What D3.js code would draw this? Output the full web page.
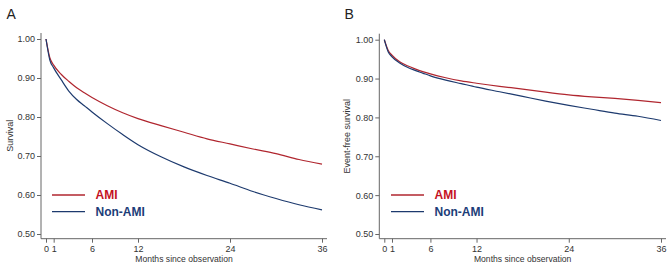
<!DOCTYPE html>
<html><head><meta charset="utf-8">
<script src="https://cdn.jsdelivr.net/npm/d3@7"></script>
<style>body{margin:0;background:#fff}svg{display:block}</style>
</head><body>
<svg id="c" width="669" height="267"></svg>
<script>
const months = [0, 0.5, 1, 2, 3, 4, 5, 6, 8, 10, 12, 15, 18, 21, 24, 27, 30, 33, 36];
const survA_AMI    = [1.0, 0.952, 0.933, 0.909, 0.891, 0.875, 0.862, 0.850, 0.829, 0.811, 0.796, 0.778, 0.761, 0.744, 0.731, 0.718, 0.706, 0.691, 0.679];
const survA_NonAMI = [1.0, 0.946, 0.926, 0.895, 0.866, 0.845, 0.829, 0.813, 0.783, 0.755, 0.729, 0.698, 0.672, 0.650, 0.630, 0.609, 0.591, 0.575, 0.562];
const survB_AMI    = [1.0, 0.973, 0.960, 0.943, 0.933, 0.925, 0.918, 0.912, 0.902, 0.894, 0.888, 0.880, 0.873, 0.865, 0.858, 0.853, 0.849, 0.844, 0.838];
const survB_NonAMI = [1.0, 0.969, 0.956, 0.940, 0.929, 0.921, 0.914, 0.907, 0.896, 0.887, 0.878, 0.866, 0.854, 0.842, 0.831, 0.821, 0.811, 0.803, 0.792];
const xTicks = [0, 1, 6, 12, 24, 36];
const yTicks = [0.5, 0.6, 0.7, 0.8, 0.9, 1.0];
const seriesNames = ["AMI", "Non-AMI"];

const lineColors = ["#b0262f", "#1d3a6e"];
const textColors = ["#c4121f", "#1c3d78"];

const svg = d3.select("#c");
const font = "Liberation Sans, Arial, sans-serif";

function panel(cfg) {
  const g = svg.append("g");
  const x = d3.scaleLinear().domain([0, 36]).range([cfg.x0, cfg.x1]);
  const y = d3.scaleLinear().domain([0.5, 1]).range([cfg.yb, cfg.yt]);
  const axX = cfg.axisX, axY = cfg.axisY;

  // axis lines
  g.append("line").attr("x1", axX).attr("x2", axX).attr("y1", cfg.yt - 6).attr("y2", axY)
    .attr("stroke", "#666").attr("stroke-width", 1);
  g.append("line").attr("x1", axX).attr("x2", cfg.x1 + 5).attr("y1", axY).attr("y2", axY)
    .attr("stroke", "#666").attr("stroke-width", 1);

  const ya = g.append("g").attr("transform", `translate(${axX},0)`)
    .call(d3.axisLeft(y).tickValues(yTicks).tickFormat(d3.format(".2f")).tickSize(4).tickPadding(2));
  ya.select(".domain").remove();
  ya.selectAll("line").attr("stroke", "#666");
  ya.selectAll("text").attr("font-family", font).attr("font-size", 9).attr("fill", "#333");

  const xa = g.append("g").attr("transform", `translate(0,${axY})`)
    .call(d3.axisBottom(x).tickValues(xTicks).tickFormat(d3.format("d")).tickSize(4).tickPadding(3));
  xa.select(".domain").remove();
  xa.selectAll("line").attr("stroke", "#666");
  xa.selectAll("text").attr("font-family", font).attr("font-size", 9).attr("fill", "#333");

  g.append("text").attr("x", (axX + cfg.x1 + 5) / 2).attr("y", 261.5).attr("text-anchor", "middle")
    .attr("font-family", font).attr("font-size", 8.6).attr("fill", "#333").text("Months since observation");
  g.append("text").attr("transform", `translate(${cfg.ylabX},${(cfg.yt - 6 + axY) / 2}) rotate(-90)`)
    .attr("text-anchor", "middle").attr("font-family", font).attr("font-size", 9).attr("fill", "#333")
    .text(cfg.ylab);
  g.append("text").attr("x", cfg.letterX).attr("y", 18.5).attr("font-family", font).attr("font-size", 14)
    .attr("fill", "#222").text(cfg.letter);

  const line = d3.line().x((d, i) => x(months[i])).y(d => y(d)).curve(d3.curveMonotoneX);
  cfg.series.forEach((s, k) => {
    g.append("path").attr("d", line(s)).attr("fill", "none").attr("stroke", lineColors[k]).attr("stroke-width", 1.2);
  });

  // legend
  seriesNames.forEach((nm, k) => {
    const ly = 195 + k * 16.7;
    g.append("line").attr("x1", cfg.legX).attr("x2", cfg.legX + 33).attr("y1", ly).attr("y2", ly)
      .attr("stroke", lineColors[k]).attr("stroke-width", 1.3);
    g.append("text").attr("x", cfg.legX + 43.5).attr("y", ly + 4.3).attr("font-family", font)
      .attr("font-size", 12).attr("font-weight", "bold").attr("fill", textColors[k]).text(nm);
  });
}

panel({x0: 46, x1: 322, yt: 39, yb: 234, axisX: 41, axisY: 238.7, ylab: "Survival", ylabX: 12.5,
  letter: "A", letterX: 6.5, legX: 52, series: [survA_AMI, survA_NonAMI]});
panel({x0: 384.3, x1: 661, yt: 39.7, yb: 234, axisX: 379.3, axisY: 238.7, ylab: "Event-free survival", ylabX: 350,
  letter: "B", letterX: 344.5, legX: 391, series: [survB_AMI, survB_NonAMI]});
</script>
</body></html>
